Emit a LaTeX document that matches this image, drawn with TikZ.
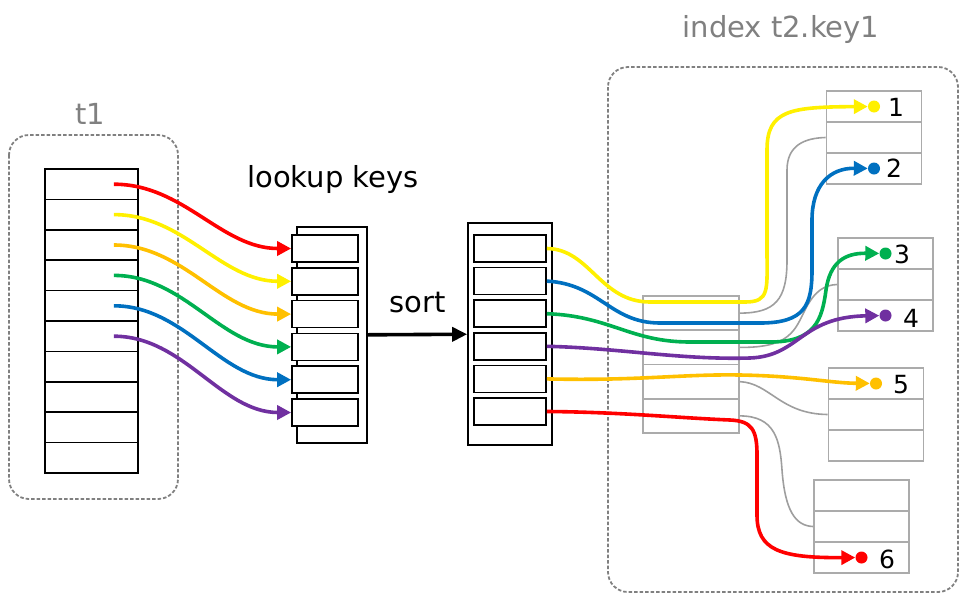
\documentclass[tikz,border=0pt]{standalone}
\usepackage{fontspec}
\setmainfont{DejaVu Sans}
\usetikzlibrary{arrows.meta}
\definecolor{kred}{RGB}{255,0,0}
\definecolor{kyellow}{RGB}{255,240,0}
\definecolor{korange}{RGB}{255,192,0}
\definecolor{kgreen}{RGB}{0,176,80}
\definecolor{kblue}{RGB}{0,112,192}
\definecolor{kpurple}{RGB}{112,48,160}
\colorlet{frame}{black!50}
\tikzset{
  cell/.style={draw=black, line width=1.7pt, fill=white, inner sep=0pt},
  gcell/.style={draw=black!33, line width=1.6pt, fill=white, inner sep=0pt},
  group/.style={draw=frame, line width=1.8pt, dash pattern=on 3.5pt off 2pt, rounded corners=20pt},
  lbl/.style={inner sep=0pt, font=\fontsize{29}{34}\selectfont},
  num/.style={inner sep=0pt, anchor=base, font=\fontsize{25}{30}\selectfont},
  key/.style={line width=3.6pt, -{Triangle[length=14pt,width=14pt]}},
  gline/.style={draw=black!38, line width=1.6pt},
  dot/.style={circle, minimum size=12pt, inner sep=0pt},
}

\begin{document}
\begin{tikzpicture}[x=1pt, y=-1pt]
        \useasboundingbox (0,0) rectangle (960,595);

        % groups
        \draw[group] (9,135) rectangle (178,499);
        \draw[group] (608,67) rectangle (958,592);
        \node[lbl, anchor=base, text=frame] (t1lbl) at (90,124) {t1};
        \node[lbl, anchor=base, text=frame] (ixlbl) at (781,37) {index t2.key1};

        % table t1
        \foreach \i in {1,...,10}
          \node[cell, minimum width=93, minimum height=30.4] (t1-\i) at (91.5,{153.8+30.4*\i}) {};

        % lookup keys
        \node[cell, minimum width=70, minimum height=216] (lk) at (332,335) {};
        \foreach \i in {1,...,6}
          \node[cell, minimum width=66, minimum height=27] (lk-\i) at (325,{215.7+32.8*\i}) {};
        \node[lbl, anchor=base] (lklbl) at (333,187) {lookup keys};

        % sorted keys
        \node[cell, minimum width=84, minimum height=222] (sk) at (510,334) {};
        \foreach \i in {1,...,6}
          \node[cell, minimum width=72, minimum height=27] (sk-\i) at (510,{215.9+32.6*\i}) {};

        \draw[line width=3.6pt, -{Triangle[length=15pt,width=14pt]}] (lk) -- (sk)
          node[lbl, midway, anchor=base, yshift=22pt] (sortlbl) {sort};

        % index pages
        \foreach \r in {1,...,4}
          \node[gcell, minimum width=96, minimum height=34.25] (ix-\r) at (691,{278.875+34.25*\r}) {};
        \foreach \n/\x/\y in {1/874/91, 2/885.5/238, 3/876/368, 4/861.5/480}
          \foreach \r in {1,2,3}
            \node[gcell, minimum width=95, minimum height=31] (lf\n-\r) at (\x,{\y+31*\r-15.5}) {};

        \node[dot, fill=kyellow] (d1) at (lf1-1) {};
        \node[dot, fill=kblue] (d2) at (lf1-3) {};
        \node[dot, fill=kgreen] (d3) at (lf2-1) {};
        \node[dot, fill=kpurple] (d4) at (lf2-3) {};
        \node[dot, fill=korange] (d5) at (lf3-1) {};
        \node[dot, fill=kred] (d6) at (lf4-3) {};
        \node[num] (n1) at (896,116) {1};
        \node[num] (n2) at (894,177) {2};
        \node[num] (n3) at (902,263) {3};
        \node[num] (n4) at (911,327) {4};
        \node[num] (n5) at (901,393) {5};
        \node[num] (n6) at (887,568) {6};

        % links between pages
        \draw[gline] (ix-1.east) .. controls (775,313) and (787,300) .. (787,260) -- (787,170)
          .. controls (787,145) and (805,138) .. (lf1-2.west);
        \draw[gline] (ix-2.east) .. controls (790,348) and (795,330) .. (805,310)
          .. controls (815,290) and (825,285) .. (lf2-2.west);
        \draw[gline] (ix-3.east) .. controls (770,383) and (780,414) .. (lf3-2.west);
        \draw[gline] (ix-4.east) .. controls (775,416) and (780,440) .. (782,470)
          .. controls (785,510) and (795,526) .. (lf4-2.west);

        % t1 -> lookup keys
        \foreach \i/\c in {1/kred, 2/kyellow, 3/korange, 4/kgreen, 5/kblue, 6/kpurple}
          \draw[key, \c] ([xshift=-25pt]t1-\i.east) .. controls +(70,0) and +(-70,0) .. (lk-\i.west);

        % sorted keys -> rows
        \draw[key, kyellow] (sk-1.east) .. controls (590,249) and (600,302) .. (650,302) -- (745,302)
          .. controls (770,302) and (767,290) .. (767,250) -- (767,150)
          .. controls (767,110) and (790,107) .. (d1);
        \draw[key, kblue] (sk-2.east) .. controls (600,284) and (610,323) .. (660,323) -- (760,323)
          .. controls (805,323) and (812,305) .. (812,270) -- (812,220)
          .. controls (812,185) and (830,168) .. (d2);
        \draw[key, kgreen] (sk-3.east) .. controls (610,316) and (630,342) .. (690,342) -- (770,342)
          .. controls (815,342) and (822,320) .. (826,290)
          .. controls (830,262) and (845,253) .. (d3);
        \draw[key, kpurple] (sk-4.east) .. controls (620,348) and (680,360) .. (750,358)
          .. controls (800,356) and (800,317) .. (d4);
        \draw[key, korange] (sk-5.east) .. controls (640,381) and (680,374) .. (740,375)
          .. controls (800,376) and (830,383) .. (d5);
        \draw[key, kred] (sk-6.east) .. controls (620,412) and (680,418) .. (730,420)
          .. controls (752,421) and (757,430) .. (757,455) -- (757,515)
          .. controls (757,550) and (780,558) .. (d6);
\end{tikzpicture}
\end{document}
